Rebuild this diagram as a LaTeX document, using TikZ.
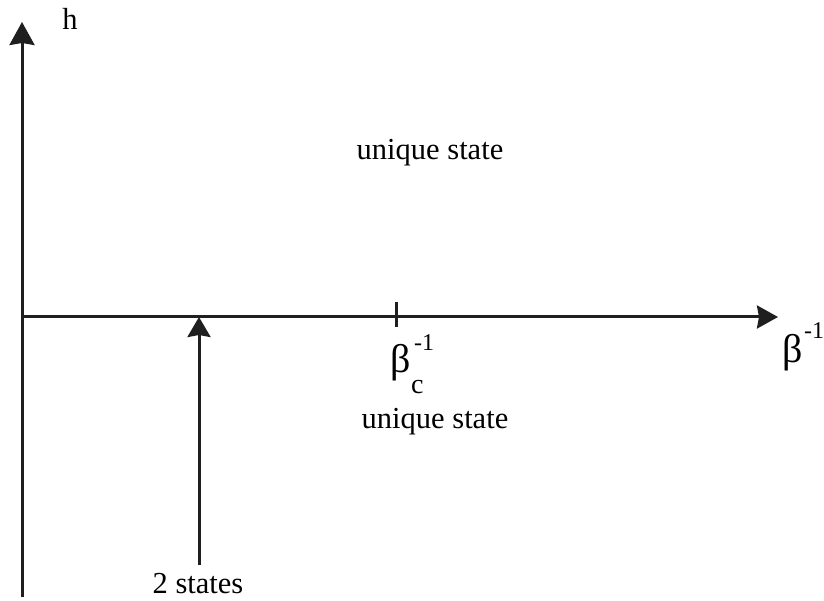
\documentclass[tikz,border=0pt]{standalone}
\usepackage{fontspec}
\setmainfont{Liberation Serif}
\usetikzlibrary{arrows.meta}
\begin{document}
\begin{tikzpicture}[x=1pt,y=-1pt,
  axis/.style={line width=3pt,draw=black!88},
  lbl/.style={inner sep=0pt,anchor=base,font=\fontsize{30.5}{36}\selectfont},
  greek/.style={inner sep=0pt,anchor=base west,font=\fontsize{40}{44}\selectfont},
  scr/.style={inner sep=0pt,anchor=base west,font=\fontsize{24}{28}\selectfont},
  sub/.style={inner sep=0pt,anchor=base west,font=\fontsize{28}{30}\selectfont}]
\useasboundingbox (0,0) rectangle (824,601);
\coordinate (vb) at (22,597);
\coordinate (vt) at (22,22);
\coordinate (hl) at (22,317);
\coordinate (hr) at (778,317);
\coordinate (ab) at (199,565);
\coordinate (at) at (199,317);
\coordinate (tt) at (396,302);
\coordinate (tb) at (396,327);
\draw[axis,-{Stealth[length=23pt,width=25pt,inset=2pt]}] (vb) -- (vt);
\draw[axis,-{Stealth[length=21pt,width=23pt,inset=2pt]}] (hl) -- (hr);
\draw[axis,-{Stealth[length=20pt,width=23pt,inset=2pt]}] (ab) -- (at);
\draw[axis] (tt) -- (tb);
\node[lbl] (h) at (70,30) {h};
\node[lbl] (u1) at (430,160) {unique state};
\node[lbl] (u2) at (435,428) {unique state};
\node[lbl] (two) at (198,593) {2 states};
\node[greek] (bc) at (390,372) {β};
\node[scr] (bcs) at (414,350) {-1};
\node[sub] (bcc) at (411,393) {c};
\node[greek] (b) at (782,362) {β};
\node[scr] (bs) at (804,338) {-1};
\end{tikzpicture}
\end{document}
